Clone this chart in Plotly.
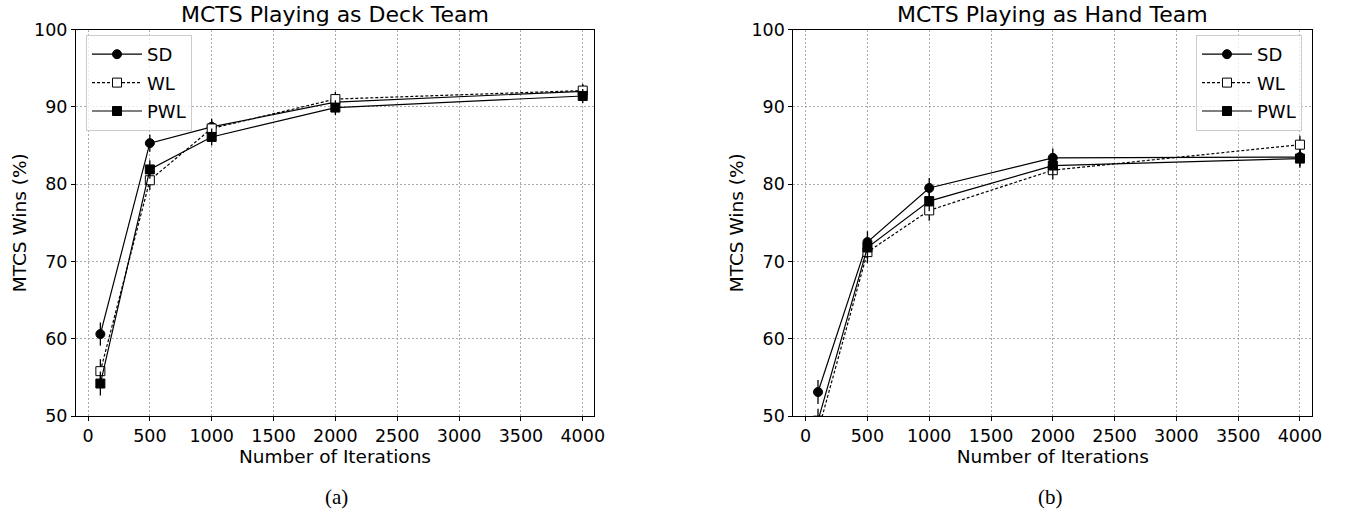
import plotly.graph_objects as go

iterations = [100, 500, 1000, 2000, 4000]

# Deck team (a)
deck_sd = [60.6, 85.3, 87.4, 90.6, 92.0]
deck_wl = [55.8, 80.5, 87.2, 91.0, 92.1]
deck_pwl = [54.2, 81.9, 86.1, 89.9, 91.4]
deck_sd_err = [1.5, 1.1, 1.05, 0.9, 0.85]
deck_wl_err = [1.55, 1.25, 1.05, 0.9, 0.85]
deck_pwl_err = [1.55, 1.2, 1.1, 0.95, 0.9]

# Hand team (b)
hand_sd = [53.1, 72.5, 79.5, 83.4, 83.5]
hand_wl = [48.0, 71.2, 76.6, 81.8, 85.1]
hand_pwl = [49.4, 71.8, 77.8, 82.4, 83.3]
hand_sd_err = [1.55, 1.4, 1.3, 1.2, 1.15]
hand_wl_err = [1.55, 1.45, 1.35, 1.2, 1.15]
hand_pwl_err = [1.55, 1.4, 1.3, 1.2, 1.2]

series_names = ["SD", "WL", "PWL"]
titles = ["MCTS Playing as Deck Team", "MCTS Playing as Hand Team"]
captions = ["(a)", "(b)"]
x_ticks = [0, 500, 1000, 1500, 2000, 2500, 3000, 3500, 4000]
y_ticks = [50, 60, 70, 80, 90, 100]

W, H = 1348, 512
FONT = "DejaVu Sans"


def px(x):
    return x / W


def py(y):
    return 1 - y / H


styles = {
    "SD": dict(symbol="circle", fill="black", dash="solid"),
    "WL": dict(symbol="square", fill="white", dash="3px,2px"),
    "PWL": dict(symbol="square", fill="black", dash="solid"),
}

fig = go.Figure()

panels = [
    (["x", "y"], "legend", [deck_sd, deck_wl, deck_pwl], [deck_sd_err, deck_wl_err, deck_pwl_err]),
    (["x2", "y2"], "legend2", [hand_sd, hand_wl, hand_pwl], [hand_sd_err, hand_wl_err, hand_pwl_err]),
]

for (axes, leg, vals, errs) in panels:
    for name, v, e in zip(series_names, vals, errs):
        st = styles[name]
        fig.add_trace(go.Scatter(
            x=iterations, y=v, name=name, mode="lines+markers",
            xaxis=axes[0], yaxis=axes[1], legend=leg, legendgroup=leg + name,
            line=dict(color="black", width=1.2, dash=st["dash"]),
            marker=dict(symbol=st["symbol"], size=9, color=st["fill"],
                        line=dict(color="black", width=1)),
            error_y=dict(type="data", array=e, visible=True, color="black",
                         thickness=1.3, width=0),
        ))

axis_common = dict(
    showline=True, linecolor="black", linewidth=1, mirror=True,
    ticks="outside", ticklen=4, tickwidth=1, tickcolor="black",
    showgrid=True, gridcolor="#aaaaaa", gridwidth=1, griddash="2px,2px",
    zeroline=False, automargin=False,
    tickfont=dict(family=FONT, size=17.5, color="black"),
)

yd = [py(416), py(29.5)]
xd1 = [px(76), px(594)]
xd2 = [px(793.3), px(1312.3)]

legend_common = dict(
    xanchor="left", yanchor="top",
    bgcolor="rgba(255,255,255,0.8)", bordercolor="#cccccc", borderwidth=1,
    font=dict(family=FONT, size=18), tracegroupgap=2, itemwidth=50,
)

fig.update_layout(
    template="none",
    width=W, height=H,
    margin=dict(l=0, r=0, t=0, b=0, autoexpand=False),
    paper_bgcolor="white", plot_bgcolor="white",
    font=dict(family=FONT, color="black"),
    showlegend=True,
    xaxis=dict(domain=xd1, range=[-97, 4091], tickvals=x_ticks,
               title=dict(text="Number of Iterations", font=dict(size=18.5), standoff=2),
               anchor="y", **axis_common),
    yaxis=dict(domain=yd, range=[50, 100], tickvals=y_ticks,
               title=dict(text="MTCS Wins (%)", font=dict(size=18.5), standoff=2),
               anchor="x", **axis_common),
    xaxis2=dict(domain=xd2, range=[-100, 4100], tickvals=x_ticks,
                title=dict(text="Number of Iterations", font=dict(size=18.5), standoff=2),
                anchor="y2", **axis_common),
    yaxis2=dict(domain=yd, range=[50, 100], tickvals=y_ticks,
                title=dict(text="MTCS Wins (%)", font=dict(size=18.5), standoff=2),
                anchor="x2", **axis_common),
    legend=dict(x=px(86), y=py(35), **legend_common),
    legend2=dict(x=px(1196), y=py(35), **legend_common),
)

title_x = [(xd1[0] + xd1[1]) / 2, (xd2[0] + xd2[1]) / 2]
caption_x = [px(336), px(1050)]
for tx, t in zip(title_x, titles):
    fig.add_annotation(text=t, x=tx, y=py(14), xref="paper", yref="paper",
                       xanchor="center", yanchor="middle", showarrow=False,
                       font=dict(family=FONT, size=22, color="black"))
for cx, c in zip(caption_x, captions):
    fig.add_annotation(text=c, x=cx, y=py(497), xref="paper", yref="paper",
                       xanchor="center", yanchor="middle", showarrow=False,
                       font=dict(family="Liberation Serif", size=21, color="black"))

fig.write_html(
    "out.html",
    config={"displayModeBar": False},
    post_script="document.body.style.margin='0';document.body.style.overflow='hidden';",
)
